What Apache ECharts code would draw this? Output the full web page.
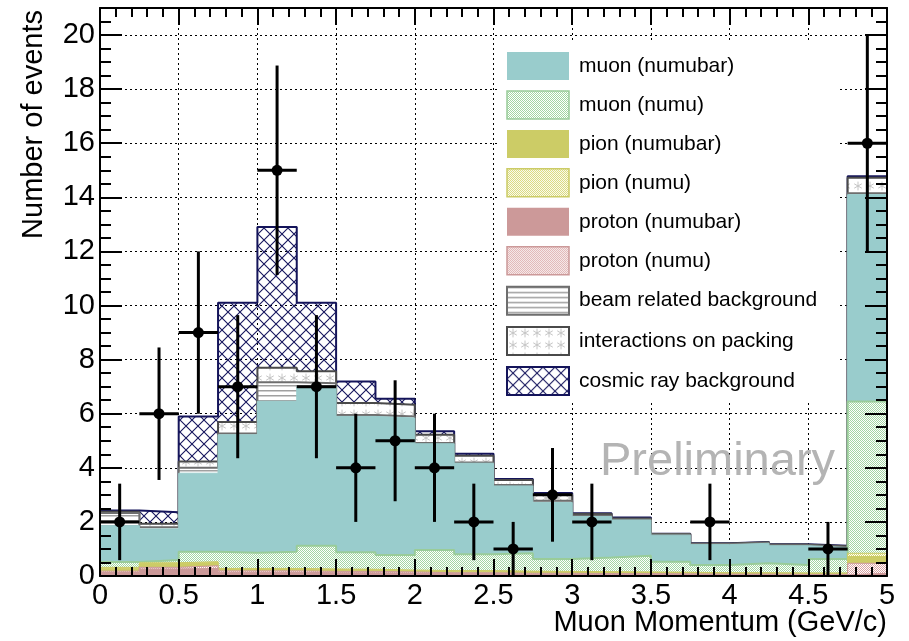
<!DOCTYPE html>
<html>
<head>
<meta charset="utf-8">
<script src="https://cdn.jsdelivr.net/npm/echarts@6/dist/echarts.min.js"></script>
<style>
  html, body { margin: 0; padding: 0; background: #fff; }
  #chart { width: 909px; height: 641px; }
</style>
</head>
<body>
<div id="chart"></div>
<script>
// Bin edges in GeV/c (last bin holds the overflow)
const binEdges = [0, 0.25, 0.5, 0.75, 1, 1.25, 1.5, 1.75, 2, 2.25, 2.5,
                  2.75, 3, 3.25, 3.5, 3.75, 4, 4.25, 4.5, 4.75, 5];

// Predicted events per bin, one array per contribution (bottom of the stack first)
const protonNumubar = [0.13, 0.26, 0.28, 0.14, 0.14, 0.12, 0.12, 0.11, 0.09, 0.09, 0.07, 0.07, 0.06, 0.06, 0.06, 0.05, 0.05, 0.04, 0.04, 0.10];
const protonNumu    = [0.05, 0.06, 0.10, 0.05, 0.05, 0.05, 0.05, 0.04, 0.03, 0.03, 0.03, 0.03, 0.03, 0.03, 0.02, 0.02, 0.02, 0.02, 0.02, 0.37];
const pionNumubar   = [0.11, 0.14, 0.12, 0.07, 0.07, 0.07, 0.06, 0.05, 0.06, 0.06, 0.06, 0.05, 0.05, 0.04, 0.04, 0.04, 0.04, 0.04, 0.04, 0.25];
const pionNumu      = [0.03, 0.03, 0.03, 0.02, 0.02, 0.02, 0.02, 0.02, 0.02, 0.02, 0.02, 0.02, 0.02, 0.02, 0.02, 0.01, 0.01, 0.01, 0.01, 0.12];
const muonNumu      = [0.20, 0.10, 0.37, 0.58, 0.62, 0.86, 0.63, 0.56, 0.76, 0.60, 0.66, 0.46, 0.52, 0.60, 0.39, 0.29, 0.35, 0.30, 0.52, 5.61];
const muonNumubar   = [1.34, 1.15, 2.90, 4.36, 5.56, 5.88, 5.02, 5.06, 3.93, 3.37, 2.49, 2.09, 1.52, 1.32, 0.98, 0.75, 0.74, 0.71, 0.42, 7.65];
const beamRelated   = [0.47, 0.06, 0.20, 0.05, 0.70, 0.13, 0.05, 0.06, 0.03, 0.03, 0.03, 0.06, 0.03, 0.02, 0.02, 0.02, 0.02, 0.02, 0.02, 0.05];
const onPacking     = [0.05, 0.13, 0.23, 0.42, 0.54, 0.44, 0.45, 0.43, 0.30, 0.25, 0.19, 0.22, 0.06, 0.04, 0.02, 0.02, 0.02, 0.02, 0.03, 0.57];
const cosmicRay     = [0.04, 0.43, 1.67, 4.41, 5.20, 2.53, 0.79, 0.22, 0.13, 0.07, 0.04, 0.07, 0.03, 0.03, 0.01, 0.01, 0.01, 0.01, 0.02, 0.06];

// Observed events per bin
const dataCounts = [2, 6, 9, 7, 15, 7, 4, 5, 4, 2, 1, 3, 2, 0, 0, 2, 0, 0, 1, 16];

// Legend entries, top to bottom
const legendOrder = ['muon (numubar)', 'muon (numu)', 'pion (numubar)', 'pion (numu)',
                     'proton (numubar)', 'proton (numu)', 'beam related background',
                     'interactions on packing', 'cosmic ray background'];

// Axis ranges and tick spacing
const xRange = [0, 5], xStep = 0.5;
const yRange = [0, 21], yStep = 2;

const FONT = '"Liberation Sans", Arial, Helvetica, sans-serif';

// ---------- fill patterns ----------
function tile(w, h, draw) {
  const c = document.createElement('canvas');
  c.width = w; c.height = h;
  draw(c.getContext('2d'), w, h);
  return { image: c, repeat: 'repeat' };
}
function dotted(color) {
  return tile(2, 2, (g) => {
    g.fillStyle = '#ffffff'; g.fillRect(0, 0, 2, 2);
    g.fillStyle = color; g.fillRect(0, 0, 1, 1); g.fillRect(1, 1, 1, 1);
  });
}
const hLines = tile(6, 5, (g, w, h) => {
  g.fillStyle = '#ffffff'; g.fillRect(0, 0, w, h);
  g.fillStyle = '#a0a0a0'; g.fillRect(0, 0, w, 1);
  g.fillStyle = '#cfcfcf'; g.fillRect(0, 1, w, 1);
});
const stars = tile(12, 12, (g, w, h) => {
  g.fillStyle = '#ffffff'; g.fillRect(0, 0, w, h);
  g.strokeStyle = '#c4c4c4'; g.lineWidth = 1;
  const cx = 6, cy = 6, r = 4.4;
  for (let k = 0; k < 3; k++) {
    const a = Math.PI / 2 + k * Math.PI / 3;
    g.beginPath();
    g.moveTo(cx - r * Math.cos(a), cy - r * Math.sin(a));
    g.lineTo(cx + r * Math.cos(a), cy + r * Math.sin(a));
    g.stroke();
  }
});
const crossHatch = tile(12, 12, (g) => {
  g.strokeStyle = '#16165e'; g.lineWidth = 1.1;
  g.beginPath();
  g.moveTo(-1, -1); g.lineTo(13, 13);
  g.moveTo(-1, 13); g.lineTo(13, -1);
  g.stroke();
});

// Stack layers, bottom first
const layers = [
  { name: 'proton (numubar)', values: protonNumubar, fill: '#cc9999', line: '#cc9999', lw: 1, border: 0 },
  { name: 'proton (numu)',    values: protonNumu,    fill: dotted('#d9a3a3'), line: '#cc9999', lw: 1, border: 1.5 },
  { name: 'pion (numubar)',   values: pionNumubar,   fill: '#cccc66', line: '#cccc66', lw: 1, border: 0 },
  { name: 'pion (numu)',      values: pionNumu,      fill: dotted('#d6d670'), line: '#cccc66', lw: 1, border: 1.5 },
  { name: 'muon (numu)',      values: muonNumu,      fill: dotted('#a3d6a3'), line: '#99cc99', lw: 2, border: 1.5 },
  { name: 'muon (numubar)',   values: muonNumubar,   fill: '#99cccc', line: '#99cccc', lw: 1, border: 0 },
  { name: 'beam related background', values: beamRelated, fill: hLines, line: '#6e6e6e', lw: 2, border: 2 },
  { name: 'interactions on packing', values: onPacking, fill: stars, line: '#4a4a4a', lw: 2, border: 2 },
  { name: 'cosmic ray background', values: cosmicRay, fill: crossHatch, line: '#14145a', lw: 2, border: 2 }
];

// Cumulative step outlines: each layer is drawn as the running sum, upper sums underneath
const nBins = binEdges.length - 1;
let running = new Array(nBins).fill(0);
const stackSeries = layers.map((L, i) => {
  running = running.map((v, j) => v + L.values[j]);
  const pts = [];
  for (let j = 0; j < nBins; j++) pts.push([binEdges[j], +running[j].toFixed(3)]);
  pts.push([binEdges[nBins], +running[nBins - 1].toFixed(3)]);
  return {
    type: 'line',
    name: L.name,
    data: pts,
    step: 'end',
    symbol: 'none',
    silent: true,
    animation: false,
    xAxisIndex: 0, yAxisIndex: 0,
    z: 10 + (layers.length - i),
    lineStyle: { color: L.line, width: L.lw },
    areaStyle: { color: L.fill, opacity: 1 }
  };
});

// Observed points with Poisson error bars
const obsData = [];
for (let j = 0; j < nBins; j++) {
  if (dataCounts[j] > 0) obsData.push([binEdges[j], binEdges[j + 1], dataCounts[j]]);
}
const obsSeries = {
  type: 'custom',
  name: 'data',
  data: obsData,
  encode: { x: [0, 1], y: 2 },
  z: 80,
  silent: true,
  animation: false,
  xAxisIndex: 0, yAxisIndex: 0,
  renderItem: (params, api) => {
    const x0 = api.value(0), x1 = api.value(1), n = api.value(2);
    const e = Math.sqrt(n), xc = (x0 + x1) / 2;
    const c = api.coord([xc, n]);
    const l = api.coord([x0, n]), r = api.coord([x1, n]);
    const t = api.coord([xc, n + e]), b = api.coord([xc, Math.max(n - e, 0)]);
    const st = { stroke: '#000', lineWidth: 3 };
    return {
      type: 'group',
      children: [
        { type: 'line', shape: { x1: l[0], y1: l[1], x2: r[0], y2: r[1] }, style: st },
        { type: 'line', shape: { x1: t[0], y1: t[1], x2: b[0], y2: b[1] }, style: st },
        { type: 'circle', shape: { cx: c[0], cy: c[1], r: 5.5 }, style: { fill: '#000' } }
      ]
    };
  }
};

// Axis pieces
const frameLine = { show: true, onZero: false, lineStyle: { color: '#000', width: 2 } };
const gridDots = { show: true, lineStyle: { color: '#000', width: 1, type: [2, 3] } };
function xAx(pos, withLabels, opts) {
  return Object.assign({
    type: 'value', min: xRange[0], max: xRange[1], interval: xStep, position: pos,
    axisLine: frameLine,
    axisTick: { show: true, inside: true, length: 17, lineStyle: { color: '#000', width: 2 } },
    minorTick: { show: true, splitNumber: 5, length: 9, lineStyle: { color: '#000', width: 2 } },
    axisLabel: { show: withLabels, color: '#000', fontFamily: FONT, fontSize: 29, margin: 5 },
    splitLine: { show: false },
    z: 50
  }, opts || {});
}
function yAx(pos, withLabels, opts) {
  return Object.assign({
    type: 'value', min: yRange[0], max: yRange[1], interval: yStep, position: pos,
    axisLine: frameLine,
    axisTick: { show: true, inside: true, length: 22, lineStyle: { color: '#000', width: 2 } },
    minorTick: { show: true, splitNumber: 4, length: 11, lineStyle: { color: '#000', width: 2 } },
    axisLabel: { show: withLabels, color: '#000', fontFamily: FONT, fontSize: 29, margin: 5, showMaxLabel: false },
    splitLine: { show: false },
    z: 50
  }, opts || {});
}
const gridOnly = { axisLine: { show: false }, axisTick: { show: false }, minorTick: { show: false },
                   axisLabel: { show: false }, splitLine: gridDots, z: 0 };

const legendItems = legendOrder.map((name) => {
  const L = layers.find((d) => d.name === name);
  return {
    name: L.name,
    icon: 'rect',
    itemStyle: { color: L.fill, borderColor: L.border ? L.line : L.fill, borderWidth: L.border }
  };
});

const chart = echarts.init(document.getElementById('chart'), null, { renderer: 'canvas' });
chart.setOption({
  animation: false,
  backgroundColor: '#ffffff',
  grid: { left: 100, right: 22, top: 8, bottom: 65, containLabel: false },
  xAxis: [xAx('bottom', true), xAx('top', false), xAx('bottom', false, gridOnly)],
  yAxis: [yAx('left', true), yAx('right', false), yAx('left', false, gridOnly)],
  legend: {
    orient: 'vertical',
    left: 500, top: 43,
    padding: [9, 22, 6, 6],
    backgroundColor: '#ffffff',
    itemWidth: 62, itemHeight: 28, itemGap: 10.2,
    selectedMode: false,
    z: 60,
    textStyle: { color: '#000', fontFamily: FONT, fontSize: 21, padding: [0, 0, 0, 5] },
    data: legendItems
  },
  graphic: [
    { type: 'text', x: 600, y: 462, z: 70, silent: true,
      style: { text: 'Preliminary', fill: '#b4b4b4', font: '47px ' + FONT, textAlign: 'left', textVerticalAlign: 'middle' } },
    { type: 'text', x: 887, y: 623, silent: true,
      style: { text: 'Muon Momentum (GeV/c)', fill: '#000', font: '29px ' + FONT, textAlign: 'right', textVerticalAlign: 'middle' } },
    { type: 'text', x: 34, y: 10, rotation: Math.PI / 2, silent: true,
      style: { text: 'Number of events', fill: '#000', font: '29px ' + FONT, textAlign: 'right', textVerticalAlign: 'middle' } }
  ],
  series: stackSeries.concat([obsSeries])
});
</script>
</body>
</html>
